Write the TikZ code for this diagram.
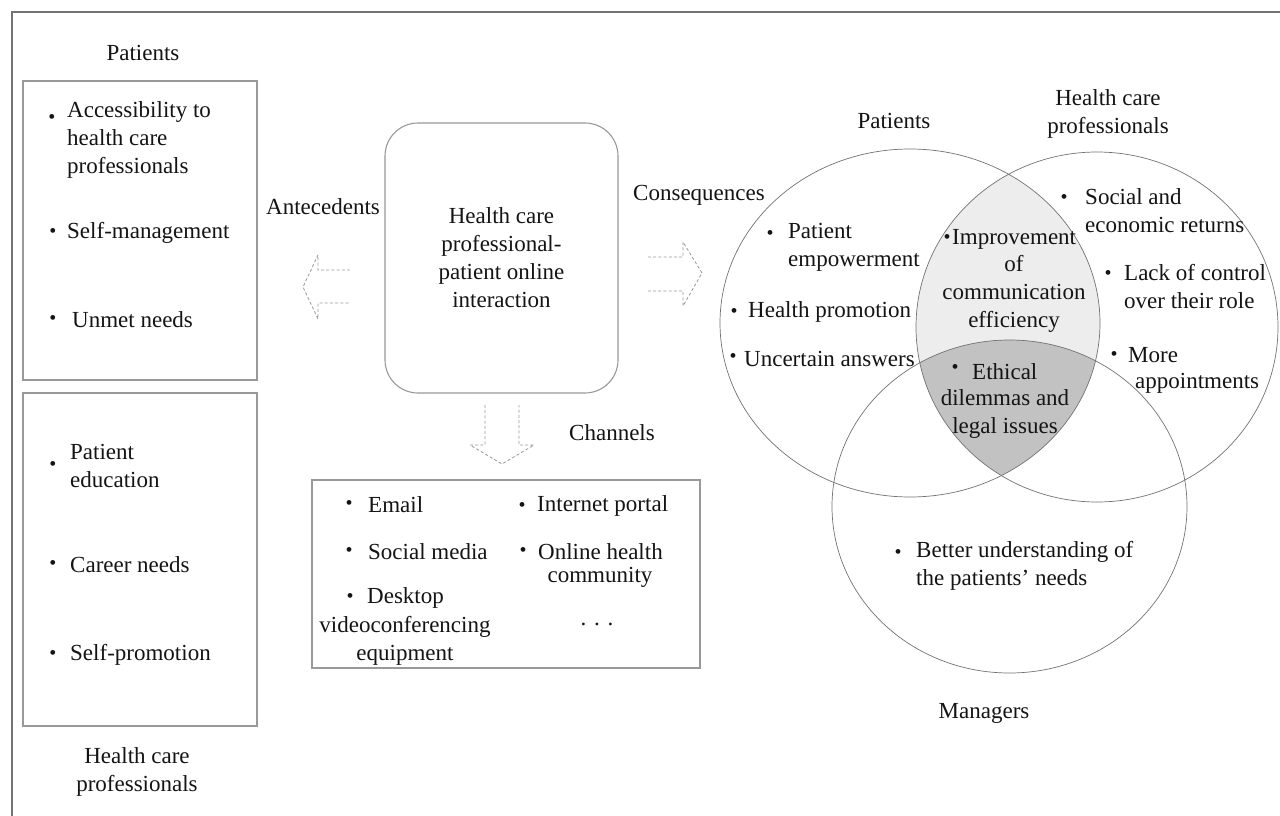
\documentclass[tikz,border=0pt]{standalone}
\usepackage{fontspec}
\setmainfont{Liberation Serif}
\begin{document}
\begin{tikzpicture}[x=1pt,y=-1pt,
  every node/.style={font=\fontsize{23}{28}\selectfont, inner sep=0pt, text=black!92},
  lbl/.style={align=center},
  item/.style={anchor=west, align=left},
  bul/.style={font=\fontsize{20}{20}\selectfont},
  panel/.style={draw=black!40, line width=1.1pt},
  frame/.style={draw=black!55, line width=1.4pt},
  ghost/.style={draw=black!40, dash pattern=on 3pt off 2.2pt, line width=0.8pt, line join=round},
  venn/.style={draw=black!55, line width=0.7pt}
]
\useasboundingbox (0,0) rectangle (1280,816);
\fill[white] (0,0) rectangle (1280,816);
% outer frame
\coordinate (fa) at (12,816);
\coordinate (fb) at (12,12);
\coordinate (fc) at (1280,12);
\draw[frame] (fa) -- (fb) -- (fc);

% ---------- left panels ----------
\node[lbl] (pl) at (143,53) {Patients};
\node[panel, minimum width=234pt, minimum height=299pt] (pbox) at (140,230.5) {};
\node[bul] (b1) at (52,119) {•};
\node[item] (p1) at (67,140) {Accessibility to\\health care\\professionals};
\node[bul] (b2) at (53,233) {•};
\node[item] (p2) at (67,233) {Self-management};
\node[bul] (b3) at (53,320) {•};
\node[item] (p3) at (72,320) {Unmet needs};

\node[panel, minimum width=234pt, minimum height=333pt] (hbox) at (140,559.5) {};
\node[bul] (b4) at (53,466) {•};
\node[item] (h1) at (70,466) {Patient\\education};
\node[bul] (b5) at (53,565) {•};
\node[item] (h2) at (70,565) {Career needs};
\node[bul] (b6) at (53,655) {•};
\node[item] (h3) at (70,655) {Self-promotion};
\node[lbl] (hl) at (137,772) {Health care\\professionals};

% ---------- centre ----------
\node[draw=black!40, line width=1.1pt, rounded corners=33pt, minimum width=233pt, minimum height=270pt, align=center] (core) at (501.5,258) {Health care\\professional-\\patient online\\interaction};
\node (ante) at (323,207) {Antecedents};
\node (cons) at (699,195) {Consequences};
\node (chan) at (612,433) {Channels};

% ghost arrows
\draw[ghost] (350,270) -- (318,270) -- (318,255) -- (303,287) -- (318,319) -- (318,303) -- (350,303);
\draw[ghost] (648,257) -- (683,257) -- (683,242) -- (702,273) -- (683,306) -- (683,291) -- (648,291);
\draw[ghost] (485,405) -- (485,445) -- (470,445) -- (502,464) -- (534,445) -- (519,445) -- (519,405);

% ---------- channels ----------
\node[panel, minimum width=388pt, minimum height=188pt] (chbox) at (506,574) {};
\node[bul] (cb1) at (349,505) {•};
\node[item] (c1) at (368,505) {Email};
\node[bul] (cb2) at (522,507) {•};
\node[item] (c2) at (537,506) {Internet portal};
\node[bul] (cb3) at (349,552) {•};
\node[item] (c3) at (368,552) {Social media};
\node[bul] (cb4) at (523,552) {•};
\node[item] (c4) at (538,552) {Online health};
\node (c4b) at (600,577) {community};
\node[bul] (cb5) at (350,598) {•};
\node[item] (c5) at (367,598) {Desktop};
\node[lbl] (c6) at (405,641) {videoconferencing\\equipment};
\node (c7) at (597,624) {. . .};

% ---------- Venn ----------
\begin{scope}
  \clip (910,323) ellipse [x radius=190, y radius=174];
  \fill[black!7] (1097,327) ellipse [x radius=181, y radius=175];
  \clip (1097,327) ellipse [x radius=181, y radius=175];
  \fill[black!24] (1009.5,506.5) ellipse [x radius=177.5, y radius=166.5];
\end{scope}
\draw[venn] (910,323) ellipse [x radius=190, y radius=174];
\draw[venn] (1097,327) ellipse [x radius=181, y radius=175];
\draw[venn] (1009.5,506.5) ellipse [x radius=177.5, y radius=166.5];

\node (vp) at (894,121) {Patients};
\node[lbl] (vh) at (1108,114) {Health care\\professionals};
\node (vm) at (984,713) {Managers};

\node[bul] (vb1) at (770,235) {•};
\node[item] (v1) at (788,247) {Patient\\empowerment};
\node[bul] (vb2) at (734,313) {•};
\node[item] (v2) at (748,312) {Health promotion};
\node[bul] (vb3) at (733,358) {•};
\node[item] (v3) at (744,359) {Uncertain answers};
\node[bul] (vb4) at (947,239) {•};
\node[item] (v4) at (952,239) {Improvement};
\node[lbl] (v5) at (1014,294) {of\\communication\\efficiency};
\node[bul] (vb5) at (955,369) {•};
\node[item] (v6) at (972,372) {Ethical};
\node[lbl] (v7) at (1005,413.5) {dilemmas and\\legal issues};
\node[bul] (vb6) at (1064,199) {•};
\node[item] (v8) at (1085,211) {Social and\\economic returns};
\node[bul] (vb7) at (1108,275) {•};
\node[item] (v9) at (1124,287) {Lack of control\\over their role};
\node[bul] (vb8) at (1114,356) {•};
\node[item] (v10) at (1128,355) {More};
\node[item] (v11) at (1135,383) {appointments};
\node[bul] (vb9) at (898,554) {•};
\node[item] (v12) at (916,566) {Better understanding of\\the patients’ needs};
\end{tikzpicture}
\end{document}
